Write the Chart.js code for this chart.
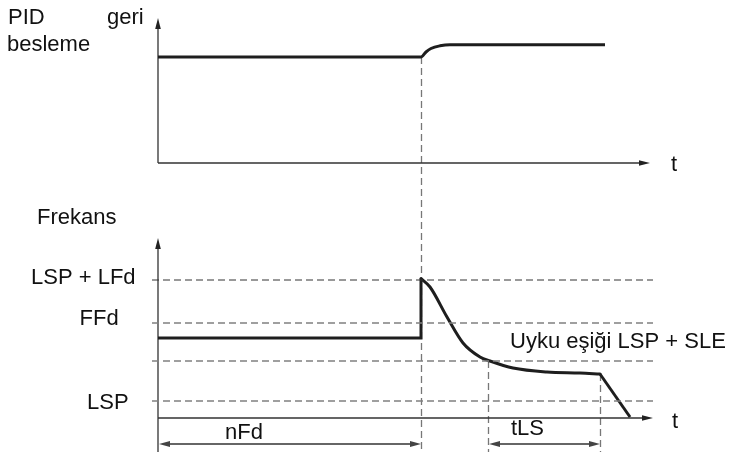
<!DOCTYPE html>
<html>
<head>
<meta charset="utf-8">
<script src="https://cdn.jsdelivr.net/npm/chart.js@4.4.1/dist/chart.umd.min.js"></script>
<style>
    html, body { margin: 0; padding: 0; background: #fff; }
    canvas { display: block; }
</style>
</head>
<body>
<canvas id="sleepChart" width="732" height="454"></canvas>
<script>
// PID feedback (top panel)
const feedbackTime = [0, 26.3, 26.8, 27.3, 28.2, 29.2, 44.7];
const feedbackValue = [10.6, 10.6, 11.1, 11.45, 11.72, 11.83, 11.83];

// output frequency (bottom panel): hold, wake-up jump, decay, stop
const freqHoldTime = [0, 26.3, 26.3];
const freqHoldValue = [8.0, 8.0, 13.95];
const freqDecayTime = [26.3, 27.2, 28.9, 30.5, 32.2, 33.2, 35.5, 38.9, 42.2, 44.2];
const freqDecayValue = [13.95, 13.1, 10.1, 7.5, 6.1, 5.7, 5.0, 4.6, 4.5, 4.4];
const freqStopTime = [44.2, 47.2];
const freqStopValue = [4.4, 0.1];

// threshold levels
const levelNames = ['LSP + LFd', 'FFd', 'Uyku eşiği LSP + SLE', 'LSP'];
const levelValues = [13.8, 9.5, 5.7, 1.7];

// time spans
const spanNames = ['nFd', 'tLS'];
const spanStart = [0, 33.0];
const spanEnd = [26.3, 44.2];

// layout: 10 px per unit, full canvas is the chart area
const X_MIN = -15.8, X_MAX = 57.4;
const TOP_MIN = -29.1, TOP_MAX = 16.3;
const BOT_MIN = -3.6, BOT_MAX = 41.8;

const toPoints = (xs, ys) => xs.map((x, i) => ({ x: x, y: ys[i] }));

const signalStyle = {
    borderColor: '#1e1e1e',
    borderWidth: 3,
    pointRadius: 0,
    fill: false
};

function arrowHead(ctx, x, y, angle, len, half) {
    ctx.save();
    ctx.translate(x, y);
    ctx.rotate(angle);
    ctx.beginPath();
    ctx.moveTo(0, 0);
    ctx.lineTo(-len, -half);
    ctx.lineTo(-len, half);
    ctx.closePath();
    ctx.fill();
    ctx.restore();
}

const diagramPlugin = {
    id: 'diagram',
    beforeDatasetsDraw(chart) {
        const ctx = chart.ctx;
        const sx = chart.scales.x, yp = chart.scales.yp, yf = chart.scales.yf;
        const x0 = sx.getPixelForValue(0);

        // vertical markers
        ctx.save();
        ctx.strokeStyle = '#777';
        ctx.lineWidth = 1.3;
        ctx.setLineDash([7, 4]);
        const markers = [
            [spanEnd[0], yp.getPixelForValue(feedbackValue[0])],
            [spanStart[1], yf.getPixelForValue(levelValues[2])],
            [spanEnd[1], yf.getPixelForValue(freqStopValue[0])]
        ];
        markers.forEach(([t, top]) => {
            const x = Math.round(sx.getPixelForValue(t)) + 0.5;
            ctx.beginPath();
            ctx.moveTo(x, top);
            ctx.lineTo(x, yf.getPixelForValue(-3.4));
            ctx.stroke();
        });
        ctx.restore();

        // axes
        ctx.save();
        ctx.strokeStyle = '#333';
        ctx.fillStyle = '#222';
        ctx.lineWidth = 1.3;
        const axes = [
            { y: yp, tipY: 14.5, fromY: 0, tipX: 49.2 },
            { y: yf, tipY: 18.0, fromY: -3.4, tipX: 49.5 }
        ];
        axes.forEach(a => {
            const zero = a.y.getPixelForValue(0);
            const topPx = a.y.getPixelForValue(a.tipY);
            const endPx = sx.getPixelForValue(a.tipX);
            ctx.beginPath();
            ctx.moveTo(x0, a.y.getPixelForValue(a.fromY));
            ctx.lineTo(x0, topPx + 6);
            ctx.moveTo(x0, zero);
            ctx.lineTo(endPx - 6, zero);
            ctx.stroke();
            arrowHead(ctx, x0, topPx, -Math.PI / 2, 11, 2.8);
            arrowHead(ctx, endPx, zero, 0, 11, 2.8);
        });
        ctx.restore();

        // span arrows
        ctx.save();
        ctx.strokeStyle = '#666';
        ctx.fillStyle = '#444';
        ctx.lineWidth = 2;
        const ay = yf.getPixelForValue(-2.6);
        spanNames.forEach((name, i) => {
            const a = sx.getPixelForValue(spanStart[i]) + 1;
            const b = sx.getPixelForValue(spanEnd[i]);
            ctx.beginPath();
            ctx.moveTo(a + 6, ay);
            ctx.lineTo(b - 6, ay);
            ctx.stroke();
            arrowHead(ctx, a, ay, Math.PI, 11, 3);
            arrowHead(ctx, b, ay, 0, 11, 3);
        });
        ctx.restore();
    },
    afterDatasetsDraw(chart) {
        const ctx = chart.ctx;
        ctx.save();
        ctx.font = '22px "Liberation Sans", Arial, sans-serif';
        ctx.fillStyle = '#111';
        ctx.textBaseline = 'alphabetic';
        const labels = [
            ['PID', 8, 23.5],
            ['geri', 107, 23.5],
            ['besleme', 7, 50.5],
            ['t', 671, 171],
            ['Frekans', 37, 224],
            [levelNames[0], 31, 283.5],
            [levelNames[1], 79.5, 325],
            [levelNames[2], 510, 347.5],
            [levelNames[3], 87, 408.5],
            ['t', 672, 428],
            [spanNames[0], 225, 438.5],
            [spanNames[1], 511, 435]
        ];
        labels.forEach(([text, x, y]) => ctx.fillText(text, x, y));
        ctx.restore();
    }
};

const levelDatasets = levelValues.map((v, i) => ({
    label: levelNames[i],
    data: [{ x: -0.6, y: v }, { x: 49.5, y: v }],
    yAxisID: 'yf',
    borderColor: i === 0 ? '#333' : '#808080',
    borderWidth: i === 0 ? 1 : 1.4,
    borderDash: [7, 4],
    pointRadius: 0,
    fill: false
}));

new Chart(document.getElementById('sleepChart'), {
    type: 'line',
    data: {
        datasets: [
            ...levelDatasets,
            {
                ...signalStyle,
                label: 'PID geri besleme',
                data: toPoints(feedbackTime, feedbackValue),
                yAxisID: 'yp',
                cubicInterpolationMode: 'monotone'
            },
            {
                ...signalStyle,
                label: 'Frekans',
                data: toPoints(freqHoldTime, freqHoldValue),
                yAxisID: 'yf',
                tension: 0,
                borderJoinStyle: 'miter'
            },
            {
                ...signalStyle,
                label: 'Frekans (azalma)',
                data: toPoints(freqDecayTime, freqDecayValue),
                yAxisID: 'yf',
                cubicInterpolationMode: 'monotone',
                borderCapStyle: 'round'
            },
            {
                ...signalStyle,
                label: 'Frekans (durma)',
                data: toPoints(freqStopTime, freqStopValue),
                yAxisID: 'yf',
                tension: 0
            }
        ]
    },
    options: {
        responsive: false,
        animation: false,
        devicePixelRatio: 1,
        layout: { padding: 0 },
        scales: {
            x: { type: 'linear', min: X_MIN, max: X_MAX, display: false },
            yp: { type: 'linear', min: TOP_MIN, max: TOP_MAX, display: false },
            yf: { type: 'linear', min: BOT_MIN, max: BOT_MAX, display: false }
        },
        plugins: {
            legend: { display: false },
            tooltip: { enabled: false }
        }
    },
    plugins: [diagramPlugin]
});
</script>
</body>
</html>
